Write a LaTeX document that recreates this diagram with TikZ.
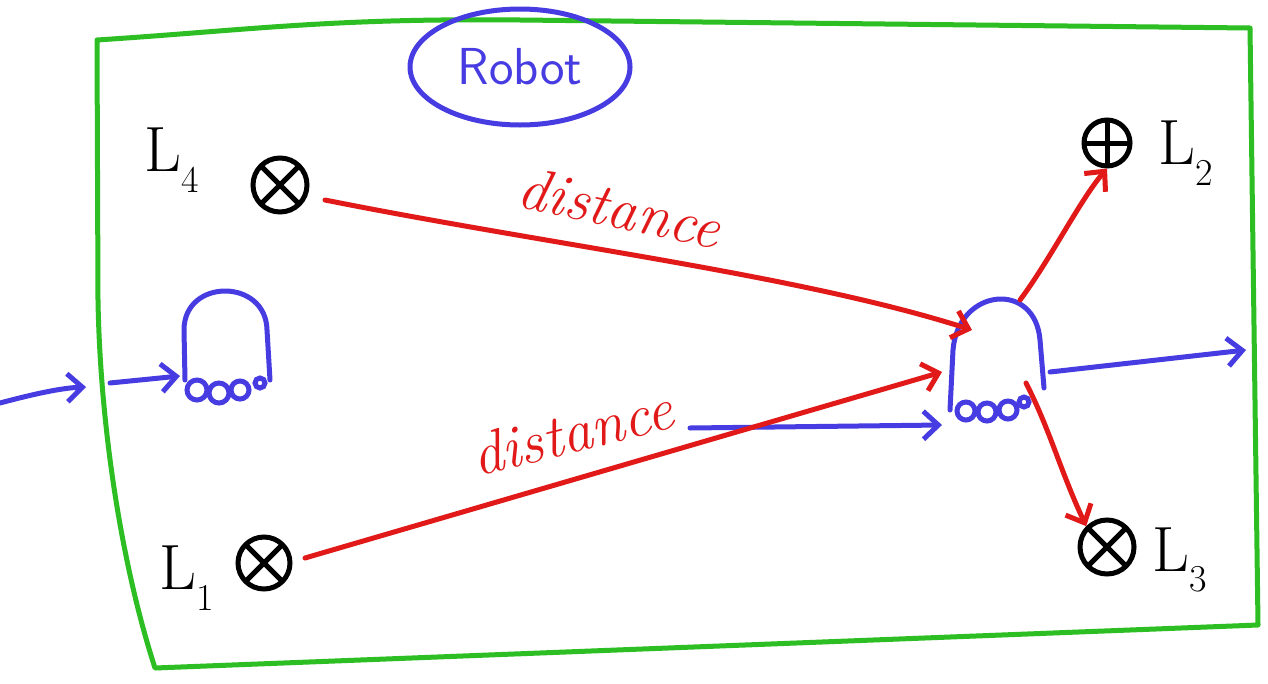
\documentclass[tikz,border=0pt]{standalone}
\usetikzlibrary{arrows.meta,shapes.geometric}
\definecolor{frameg}{RGB}{45,190,35}
\definecolor{robb}{RGB}{70,60,225}
\definecolor{distr}{RGB}{225,25,25}
\newcommand{\lmk}[1]{L\raisebox{-0.32em}{\fontsize{38}{38}\selectfont #1}}
\tikzset{
  pen/.style={line width=5pt,line cap=round,line join=round},
  hand/.style={-{Straight Barb[length=15pt,width=28pt,line width=5pt]}},
  landmark/.style={circle,draw=black,line width=5pt,minimum size=54pt,inner sep=0pt,
    path picture={\draw[line width=5pt] (path picture bounding box.north west) -- (path picture bounding box.south east)
      (path picture bounding box.north east) -- (path picture bounding box.south west);}},
  landmarkplus/.style={circle,draw=black,line width=5pt,minimum size=46pt,inner sep=0pt,
    path picture={\draw[line width=5pt] (path picture bounding box.north) -- (path picture bounding box.south)
      (path picture bounding box.east) -- (path picture bounding box.west);}},
  lname/.style={font=\fontsize{64}{64}\selectfont,inner sep=0pt},
  dist/.style={text=distr,font=\fontsize{60}{60}\selectfont\itshape},
  wheel/.style={draw=robb,line width=5pt,circle,inner sep=0pt}
}
\begin{document}
\begin{tikzpicture}[x=1pt,y=-1pt]
\path[use as bounding box,fill=white] (0,0) rectangle (1268,683);

% world boundary
\draw[pen,frameg] (97,40) .. controls (250,30) and (330,18) .. (520,20)
  -- (1250,28) -- (1258,625) -- (155,668)
  .. controls (120,560) and (100,420) .. (98,300) -- cycle;

% title
\node[ellipse,draw=robb,line width=5pt,minimum width=220pt,minimum height=116pt,
      text=robb,font=\fontsize{52}{52}\selectfont\sffamily] (title) at (520,67) {Robot};

% landmarks
\node[landmark] (l4) at (280,185) {};
\node[landmarkplus] (l2) at (1107,143) {};
\node[landmark] (l3) at (1107,547) {};
\node[landmark,minimum size=52pt] (l1) at (264,563) {};
\node[lname] (n4) at (172,160) {\lmk{4}};
\node[lname] (n2) at (1186,153) {\lmk{2}};
\node[lname] (n3) at (1180,560) {\lmk{3}};
\node[lname] (n1) at (187,578) {\lmk{1}};

% robot at its start pose
\draw[pen,robb] (185,380) -- (184,330) .. controls (184,278) and (266,278) .. (267,330) -- (270,380);
\node[wheel,minimum size=20pt] (wa1) at (197,390) {};
\node[wheel,minimum size=20pt] (wa2) at (219,393) {};
\node[wheel,minimum size=18pt] (wa3) at (240,390) {};
\node[wheel,minimum size=10pt] (wa4) at (260,383) {};

% robot at its later pose
\draw[pen,robb] (950,410) -- (953,350) .. controls (958,288) and (1035,280) .. (1040,340) -- (1044,388);
\node[wheel,minimum size=18pt] (wb1) at (966,411) {};
\node[wheel,minimum size=18pt] (wb2) at (987,412) {};
\node[wheel,minimum size=18pt] (wb3) at (1008,410) {};
\node[wheel,minimum size=10pt] (wb4) at (1024,402) {};

% anchor points on the robot outlines
\coordinate (inA) at (110,383);
\coordinate (inB) at (180,376);
\coordinate (in0) at (0,403);
\coordinate (in1) at (86,387);
\coordinate (hitTop) at (972,330);
\coordinate (hitLow) at (942,372);
\coordinate (mvA) at (690,428);
\coordinate (mvB) at (942,425);
\coordinate (outA) at (1050,372);
\coordinate (outB) at (1246,350);
\coordinate (toL2) at (1020,300);
\coordinate (toL3) at (1026,383);

% motion arrows
\draw[pen,robb,hand] (in0) .. controls (30,395) and (60,388) .. (in1);
\draw[pen,robb,hand] (inA) -- (inB);
\draw[pen,robb,hand] (mvA) -- (mvB);
\draw[pen,robb,hand] (outA) -- (outB);

% measured distances
\draw[pen,distr,hand] (325,200) .. controls (550,245) and (800,275) .. (hitTop);
\draw[pen,distr,hand] (305,558) -- (hitLow);
\draw[pen,distr,hand] (toL2) .. controls (1050,260) and (1080,200) .. (l2.south);
\draw[pen,distr,hand] (toL3) .. controls (1050,430) and (1060,470) .. (l3.north west);

\node[dist,rotate=-12] (d1) at (620,208) {distance};
\node[dist,rotate=14] (d2) at (572,432) {distance};
\end{tikzpicture}
\end{document}
